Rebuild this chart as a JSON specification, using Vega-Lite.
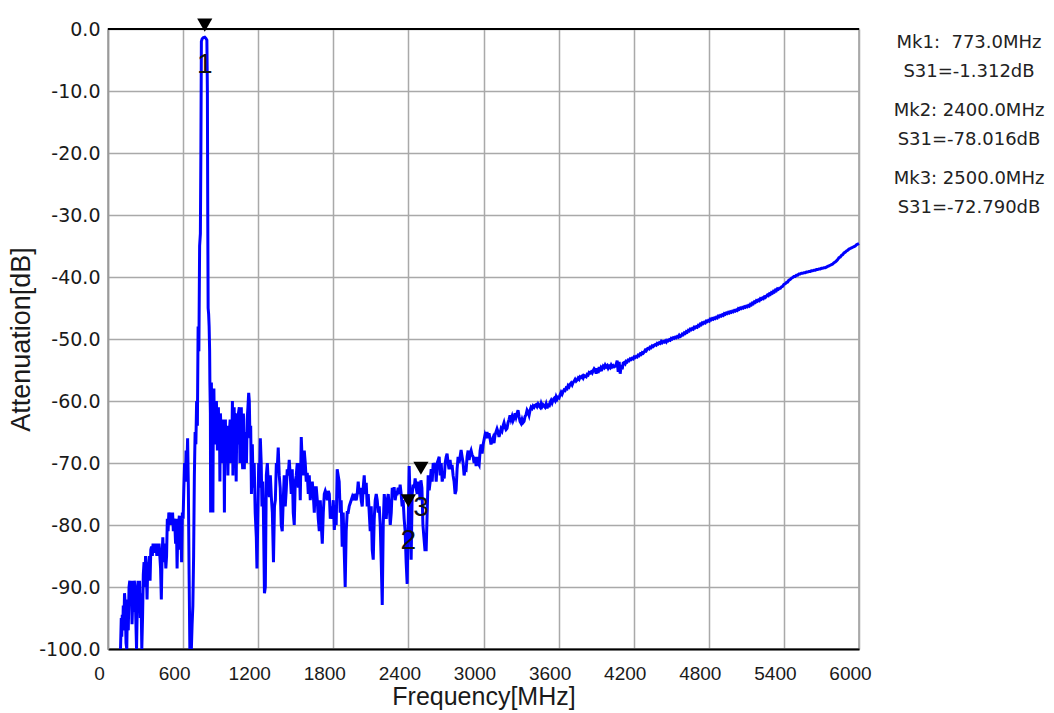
{
"$schema":"https://vega.github.io/schema/vega-lite/v6.json",
"width":751,"height":620,
"autosize":{"type":"none"},
"padding":{"left":108,"top":29,"right":195,"bottom":64},
"background":"white",
"datasets":{
"trace":[
{"f":100,"db":-100},{"f":106,"db":-95},{"f":110,"db":-98},{"f":114,"db":-94.5},{"f":118,"db":-97},{"f":122,"db":-93},{"f":128,"db":-95},{"f":132,"db":-91},{"f":138,"db":-93},{"f":144,"db":-99},{"f":150,"db":-100},{"f":156,"db":-92},{"f":162,"db":-97},{"f":168,"db":-90},{"f":174,"db":-89},{"f":180,"db":-91},{"f":186,"db":-89},{"f":192,"db":-96},{"f":198,"db":-92},{"f":204,"db":-94},{"f":210,"db":-89},{"f":216,"db":-90},{"f":222,"db":-95},{"f":228,"db":-100},{"f":234,"db":-93},{"f":240,"db":-89},{"f":246,"db":-92},{"f":252,"db":-89},{"f":258,"db":-95},{"f":264,"db":-91},{"f":270,"db":-100},{"f":276,"db":-95},{"f":282,"db":-88},{"f":288,"db":-86},{"f":294,"db":-90},{"f":300,"db":-85},{"f":306,"db":-87},{"f":312,"db":-92},{"f":318,"db":-86},{"f":324,"db":-88},{"f":330,"db":-85},{"f":336,"db":-89},{"f":342,"db":-84},{"f":348,"db":-83.5},{"f":354,"db":-85},{"f":360,"db":-83},{"f":366,"db":-84.5},{"f":372,"db":-83},{"f":378,"db":-84},{"f":384,"db":-83},{"f":390,"db":-85},{"f":396,"db":-83.5},{"f":402,"db":-84},{"f":408,"db":-83},{"f":414,"db":-85},{"f":420,"db":-87},{"f":426,"db":-92},{"f":432,"db":-85},{"f":438,"db":-82},{"f":444,"db":-86},{"f":450,"db":-83},{"f":456,"db":-84},{"f":462,"db":-87},{"f":468,"db":-85},{"f":474,"db":-79},{"f":480,"db":-81},{"f":486,"db":-78},{"f":492,"db":-78.5},{"f":498,"db":-80},{"f":504,"db":-78},{"f":510,"db":-79},{"f":516,"db":-78},{"f":522,"db":-81},{"f":528,"db":-79},{"f":534,"db":-80},{"f":540,"db":-83},{"f":546,"db":-79},{"f":552,"db":-87},{"f":558,"db":-80},{"f":564,"db":-80},{"f":570,"db":-78.5},{"f":576,"db":-84},{"f":582,"db":-80},{"f":588,"db":-86},{"f":594,"db":-78},{"f":600,"db":-79},{"f":606,"db":-74},{"f":612,"db":-70},{"f":618,"db":-73},{"f":624,"db":-68},{"f":630,"db":-71},{"f":636,"db":-66},{"f":642,"db":-74},{"f":648,"db":-88},{"f":654,"db":-100},{"f":660,"db":-97},{"f":666,"db":-100},{"f":672,"db":-96},{"f":678,"db":-93},{"f":684,"db":-85},{"f":690,"db":-72},{"f":696,"db":-65},{"f":702,"db":-67},{"f":708,"db":-60},{"f":714,"db":-64},{"f":720,"db":-48},{"f":726,"db":-52},{"f":732,"db":-35},{"f":738,"db":-33},{"f":742,"db":-20},{"f":746,"db":-2},{"f":752,"db":-1.6},{"f":760,"db":-1.4},{"f":773,"db":-1.312},{"f":782,"db":-1.5},{"f":790,"db":-1.8},{"f":794,"db":-10},{"f":797,"db":-30},
{"f":800,"db":-45},{"f":804,"db":-46},{"f":808,"db":-48},{"f":812,"db":-52},{"f":814,"db":-57},{"f":818,"db":-62},{"f":820,"db":-78},{"f":822,"db":-60},{"f":826,"db":-57},{"f":830,"db":-66},{"f":834,"db":-62},{"f":838,"db":-78},{"f":842,"db":-60},{"f":846,"db":-58},{"f":850,"db":-65},{"f":854,"db":-60},{"f":858,"db":-62},{"f":862,"db":-67},{"f":866,"db":-60},{"f":870,"db":-63},{"f":874,"db":-68},{"f":878,"db":-62},{"f":882,"db":-61},{"f":886,"db":-66},{"f":890,"db":-62},{"f":894,"db":-73},{"f":898,"db":-62},{"f":902,"db":-64},{"f":906,"db":-70},{"f":910,"db":-63},{"f":914,"db":-64},{"f":918,"db":-69},{"f":922,"db":-63},{"f":926,"db":-66},{"f":930,"db":-78},{"f":934,"db":-64},{"f":938,"db":-63},{"f":942,"db":-70},{"f":946,"db":-65},{"f":950,"db":-64},{"f":954,"db":-67},{"f":958,"db":-72},{"f":962,"db":-66},{"f":966,"db":-68},{"f":970,"db":-65},{"f":976,"db":-63},{"f":982,"db":-70},{"f":986,"db":-64},{"f":990,"db":-66},{"f":994,"db":-60},{"f":998,"db":-72},{"f":1002,"db":-64},{"f":1008,"db":-61},{"f":1012,"db":-70},{"f":1016,"db":-62},{"f":1020,"db":-66},{"f":1024,"db":-73},{"f":1030,"db":-62},{"f":1036,"db":-67},{"f":1042,"db":-62},{"f":1049,"db":-61},{"f":1054,"db":-70},{"f":1060,"db":-64},{"f":1065,"db":-61},{"f":1070,"db":-68},{"f":1076,"db":-71},{"f":1082,"db":-62},{"f":1089,"db":-71},{"f":1094,"db":-65},{"f":1100,"db":-66},{"f":1106,"db":-70},{"f":1112,"db":-63},{"f":1118,"db":-61},{"f":1124,"db":-58.7},{"f":1129,"db":-60},{"f":1134,"db":-66},{"f":1140,"db":-64},{"f":1146,"db":-75},{"f":1153,"db":-67},{"f":1160,"db":-74},{"f":1168,"db":-70},{"f":1176,"db":-78},{"f":1185,"db":-82},{"f":1190,"db":-87},{"f":1196,"db":-80},{"f":1204,"db":-70},{"f":1210,"db":-74},{"f":1217,"db":-66},{"f":1224,"db":-70},{"f":1230,"db":-77},{"f":1236,"db":-73},{"f":1241,"db":-77},{"f":1250,"db":-91},{"f":1257,"db":-90},{"f":1265,"db":-72},{"f":1273,"db":-70},{"f":1280,"db":-73},{"f":1289,"db":-75.5},{"f":1297,"db":-72},{"f":1305,"db":-75.5},{"f":1313,"db":-78},{"f":1322,"db":-86},{"f":1330,"db":-77},{"f":1337,"db":-76},{"f":1345,"db":-70},{"f":1352,"db":-71},{"f":1360,"db":-67.5},{"f":1368,"db":-72},{"f":1376,"db":-74},{"f":1384,"db":-80},{"f":1392,"db":-81},{"f":1400,"db":-76},{"f":1408,"db":-72},{"f":1416,"db":-77},{"f":1424,"db":-74.4},{"f":1432,"db":-71},{"f":1440,"db":-72},{"f":1448,"db":-69.5},{"f":1456,"db":-72},{"f":1464,"db":-75},{"f":1472,"db":-71},{"f":1480,"db":-78},{"f":1488,"db":-80},{"f":1496,"db":-73},{"f":1504,"db":-72},{"f":1512,"db":-70},{"f":1520,"db":-74},{"f":1528,"db":-70},{"f":1536,"db":-76},{"f":1544,"db":-65.8},
{"f":1552,"db":-70},{"f":1560,"db":-72},{"f":1568,"db":-68},{"f":1576,"db":-70},{"f":1584,"db":-73},{"f":1592,"db":-71.6},{"f":1600,"db":-75},{"f":1608,"db":-72},{"f":1616,"db":-76},{"f":1624,"db":-74},{"f":1632,"db":-73},{"f":1640,"db":-75},{"f":1648,"db":-78},{"f":1656,"db":-74},{"f":1664,"db":-74},{"f":1672,"db":-76},{"f":1680,"db":-79},{"f":1688,"db":-81},{"f":1696,"db":-76},{"f":1704,"db":-80},{"f":1712,"db":-83},{"f":1720,"db":-78},{"f":1728,"db":-75},{"f":1736,"db":-74.5},{"f":1744,"db":-75},{"f":1752,"db":-76},{"f":1760,"db":-74.5},{"f":1768,"db":-75},{"f":1776,"db":-79},{"f":1784,"db":-77},{"f":1792,"db":-79},{"f":1800,"db":-76},{"f":1808,"db":-80.8},{"f":1816,"db":-78},{"f":1823,"db":-80},{"f":1831,"db":-71},{"f":1839,"db":-72},{"f":1847,"db":-73},{"f":1855,"db":-78},{"f":1863,"db":-76},{"f":1871,"db":-83.5},{"f":1879,"db":-78},{"f":1887,"db":-84},{"f":1895,"db":-90},{"f":1903,"db":-81},{"f":1911,"db":-78},{"f":1919,"db":-78},{"f":1927,"db":-77},{"f":1935,"db":-76.5},{"f":1943,"db":-76},{"f":1951,"db":-75.5},{"f":1959,"db":-76},{"f":1967,"db":-75},{"f":1975,"db":-75.5},{"f":1983,"db":-76},{"f":1991,"db":-75},{"f":1999,"db":-73},{"f":2007,"db":-75},{"f":2015,"db":-74},{"f":2023,"db":-76},{"f":2031,"db":-77},{"f":2039,"db":-74},{"f":2047,"db":-72},{"f":2055,"db":-75},{"f":2063,"db":-73.2},{"f":2071,"db":-77},{"f":2079,"db":-75},{"f":2087,"db":-78},{"f":2095,"db":-81},{"f":2103,"db":-77},{"f":2111,"db":-84},{"f":2119,"db":-85.6},{"f":2127,"db":-79},{"f":2135,"db":-76},{"f":2143,"db":-75},{"f":2151,"db":-76},{"f":2159,"db":-78},{"f":2167,"db":-77},{"f":2175,"db":-80},{"f":2183,"db":-86},{"f":2191,"db":-92.9},{"f":2199,"db":-80},{"f":2207,"db":-75},{"f":2215,"db":-77},{"f":2223,"db":-79},{"f":2231,"db":-76},{"f":2239,"db":-75},{"f":2247,"db":-77},{"f":2255,"db":-80},{"f":2263,"db":-78},{"f":2271,"db":-74},{"f":2279,"db":-75},{"f":2286,"db":-73.9},{"f":2294,"db":-76},{"f":2302,"db":-75},{"f":2310,"db":-75},{"f":2318,"db":-74},{"f":2326,"db":-75},{"f":2334,"db":-73.5},{"f":2342,"db":-75},{"f":2350,"db":-77},{"f":2358,"db":-76},{"f":2366,"db":-79},{"f":2374,"db":-81},{"f":2382,"db":-86},{"f":2390,"db":-89.5},{"f":2398,"db":-80},{"f":2400,"db":-78.016},{"f":2406,"db":-70.5},{"f":2414,"db":-76},{"f":2422,"db":-85.6},{"f":2430,"db":-75},{"f":2438,"db":-73.5},{"f":2446,"db":-74},{"f":2454,"db":-72.5},{"f":2462,"db":-74},{"f":2470,"db":-75},{"f":2478,"db":-73},{"f":2486,"db":-74},{"f":2494,"db":-76},{"f":2500,"db":-72.79},{"f":2508,"db":-74},{"f":2516,"db":-80},{"f":2524,"db":-82},{"f":2532,"db":-84},{"f":2542,"db":-84},{"f":2550,"db":-78},{"f":2558,"db":-72},{"f":2566,"db":-74.4},{"f":2574,"db":-73},{"f":2582,"db":-71},{"f":2590,"db":-73},{"f":2598,"db":-70},{"f":2606,"db":-71.1},{"f":2614,"db":-70},{"f":2622,"db":-73},{"f":2630,"db":-70},{"f":2638,"db":-69.5},{"f":2646,"db":-69},{"f":2654,"db":-72},{"f":2662,"db":-70},{"f":2670,"db":-73},{"f":2678,"db":-72},{"f":2686,"db":-72.5},{"f":2694,"db":-70},{"f":2702,"db":-69},{"f":2709,"db":-68.5},{"f":2717,"db":-70},{"f":2725,"db":-71},{"f":2733,"db":-69.5},{"f":2741,"db":-71},{"f":2749,"db":-70.3},{"f":2757,"db":-72},{"f":2765,"db":-73},{"f":2773,"db":-75},{"f":2781,"db":-74.4},{"f":2789,"db":-71},{"f":2797,"db":-69},{"f":2805,"db":-70},{"f":2813,"db":-69},{"f":2821,"db":-67.9},{"f":2829,"db":-69},{"f":2837,"db":-70},{"f":2845,"db":-72},{"f":2853,"db":-71},{"f":2861,"db":-71.1},{"f":2869,"db":-69},{"f":2877,"db":-68},{"f":2885,"db":-69.5},{"f":2893,"db":-68.5},{"f":2901,"db":-68},{"f":2909,"db":-68.7},{"f":2917,"db":-69},{"f":2925,"db":-70},{"f":2933,"db":-69},{"f":2941,"db":-70.5},{"f":2949,"db":-69},{"f":2957,"db":-70},{"f":2965,"db":-70.3},{"f":2973,"db":-68},{"f":2981,"db":-67},{"f":2989,"db":-68.5},{"f":2997,"db":-67},{"f":3004,"db":-66.3},{"f":3012,"db":-65.5},{"f":3020,"db":-66},{"f":3028,"db":-65},{"f":3036,"db":-66},{"f":3044,"db":-65.2},{"f":3052,"db":-66},{"f":3060,"db":-67},{"f":3068,"db":-66.5},{"f":3076,"db":-66},{"f":3084,"db":-66.8},{"f":3092,"db":-65.5},{"f":3100,"db":-65},{"f":3108,"db":-64.5},{"f":3116,"db":-65},{"f":3124,"db":-65.8},
{"f":3132,"db":-65.2},{"f":3140,"db":-64.5},{"f":3148,"db":-64.8},{"f":3156,"db":-64},{"f":3164,"db":-63.5},{"f":3172,"db":-64.2},{"f":3180,"db":-64.6},{"f":3188,"db":-64.4},{"f":3196,"db":-63.5},{"f":3204,"db":-63},{"f":3212,"db":-62.3},{"f":3220,"db":-63},{"f":3228,"db":-62.5},{"f":3236,"db":-63.2},{"f":3244,"db":-62.8},{"f":3252,"db":-62},{"f":3260,"db":-62.6},{"f":3268,"db":-62},{"f":3276,"db":-61.5},{"f":3284,"db":-62.5},{"f":3292,"db":-63.3},{"f":3300,"db":-63.6},{"f":3308,"db":-63},{"f":3316,"db":-63.5},{"f":3324,"db":-63.3},{"f":3332,"db":-62.5},{"f":3340,"db":-62.2},{"f":3348,"db":-61.5},{"f":3356,"db":-61.8},{"f":3364,"db":-62.3},{"f":3372,"db":-61.5},{"f":3380,"db":-61},{"f":3388,"db":-61.2},{"f":3396,"db":-60.8},{"f":3404,"db":-61},{"f":3412,"db":-60.7},{"f":3420,"db":-60.6},{"f":3428,"db":-60.9},{"f":3436,"db":-60.5},{"f":3444,"db":-60.8},{"f":3452,"db":-61},{"f":3460,"db":-60.4},{"f":3468,"db":-60.9},{"f":3476,"db":-60.6},{"f":3484,"db":-60.8},{"f":3492,"db":-61},{"f":3500,"db":-60.5},{"f":3508,"db":-61.2},{"f":3516,"db":-60.4},{"f":3524,"db":-61},{"f":3532,"db":-60.2},{"f":3540,"db":-59.9},{"f":3548,"db":-60.3},{"f":3556,"db":-59.8},{"f":3564,"db":-59.6},{"f":3572,"db":-59.9},{"f":3580,"db":-59.3},{"f":3588,"db":-59.7},{"f":3596,"db":-59.4},{"f":3604,"db":-59.5},{"f":3612,"db":-59},{"f":3620,"db":-58.6},{"f":3628,"db":-58.9},{"f":3636,"db":-58.5},{"f":3644,"db":-58.2},{"f":3652,"db":-58.3},{"f":3660,"db":-57.9},{"f":3668,"db":-58},{"f":3676,"db":-57.5},{"f":3684,"db":-57.7},{"f":3692,"db":-57.3},{"f":3700,"db":-57.1},{"f":3708,"db":-57.4},{"f":3716,"db":-57},{"f":3724,"db":-56.8},{"f":3732,"db":-56.5},{"f":3740,"db":-56.8},{"f":3748,"db":-56.6},{"f":3756,"db":-56.3},{"f":3764,"db":-56.5},{"f":3772,"db":-56.1},{"f":3780,"db":-56.2},{"f":3788,"db":-56},{"f":3796,"db":-56.3},{"f":3804,"db":-55.9},{"f":3812,"db":-56},{"f":3820,"db":-56.1},{"f":3828,"db":-55.7},{"f":3836,"db":-55.8},{"f":3844,"db":-55.4},{"f":3852,"db":-55.5},{"f":3860,"db":-55.3},{"f":3868,"db":-55.5},{"f":3876,"db":-55.1},{"f":3884,"db":-54.8},{"f":3892,"db":-55},{"f":3900,"db":-55.6},{"f":3908,"db":-54.7},{"f":3916,"db":-55.5},{"f":3924,"db":-54.5},{"f":3932,"db":-55.2},{"f":3940,"db":-54.6},{"f":3948,"db":-54.8},{"f":3956,"db":-54.4},{"f":3964,"db":-54.6},{"f":3972,"db":-54.2},{"f":3980,"db":-54.5},{"f":3988,"db":-54.3},{"f":3996,"db":-54.7},{"f":4004,"db":-54.4},{"f":4012,"db":-54.6},{"f":4020,"db":-54.2},{"f":4028,"db":-54.5},{"f":4036,"db":-54.3},{"f":4044,"db":-54.5},{"f":4052,"db":-54.4},{"f":4060,"db":-54.1},{"f":4068,"db":-53.5},{"f":4076,"db":-55.3},{"f":4084,"db":-53.7},{"f":4092,"db":-55.6},{"f":4100,"db":-54.2},{"f":4108,"db":-54.9},{"f":4116,"db":-53.9},{"f":4124,"db":-53.8},{"f":4132,"db":-54},{"f":4140,"db":-53.6},{"f":4148,"db":-53.7},{"f":4156,"db":-53.4},{"f":4164,"db":-53.5},{"f":4172,"db":-53.2},{"f":4180,"db":-53.3},{"f":4188,"db":-53.1},{"f":4196,"db":-53.2},{"f":4204,"db":-52.9},{"f":4212,"db":-53},{"f":4220,"db":-52.8},{"f":4228,"db":-52.9},{"f":4236,"db":-52.6},{"f":4244,"db":-52.7},{"f":4252,"db":-52.4},{"f":4260,"db":-52.5},{"f":4268,"db":-52.2},{"f":4276,"db":-52.3},{"f":4284,"db":-52.1},{"f":4292,"db":-51.8},{"f":4300,"db":-51.9},{"f":4308,"db":-51.6},{"f":4316,"db":-51.5},{"f":4324,"db":-51.6},{"f":4332,"db":-51.3},{"f":4340,"db":-51.4},{"f":4348,"db":-51.1},{"f":4356,"db":-51.2},{"f":4364,"db":-51},{"f":4372,"db":-50.9},{"f":4380,"db":-51},{"f":4388,"db":-50.7},{"f":4396,"db":-50.8},{"f":4404,"db":-50.6},{"f":4412,"db":-50.7},{"f":4420,"db":-50.4},{"f":4428,"db":-50.6},{"f":4436,"db":-50.4},{"f":4444,"db":-50.5},{"f":4452,"db":-50.3},{"f":4460,"db":-50.5},{"f":4468,"db":-50.2},{"f":4476,"db":-50.3},{"f":4484,"db":-50.1},{"f":4492,"db":-50.2},{"f":4500,"db":-49.9},{"f":4508,"db":-50},{"f":4516,"db":-49.8},{"f":4524,"db":-49.9},{"f":4532,"db":-49.7},{"f":4540,"db":-49.8},{"f":4548,"db":-49.6},{"f":4556,"db":-49.7},{"f":4564,"db":-49.4},{"f":4572,"db":-49.6},{"f":4580,"db":-49.5},{"f":4588,"db":-49.2},{"f":4596,"db":-49.3},{"f":4604,"db":-49},{"f":4612,"db":-49.1},{"f":4620,"db":-48.8},{"f":4628,"db":-48.9},{"f":4636,"db":-48.6},{"f":4644,"db":-48.7},{"f":4652,"db":-48.4},{"f":4660,"db":-48.5},{"f":4668,"db":-48.3},{"f":4676,"db":-48.4},{"f":4684,"db":-48.1},{"f":4692,"db":-48.2},{"f":4700,"db":-48},{"f":4708,"db":-48.1},{"f":4716,"db":-47.8},{"f":4724,"db":-47.9},{"f":4732,"db":-47.6},{"f":4740,"db":-47.7},{"f":4748,"db":-47.4},{"f":4756,"db":-47.5},{"f":4764,"db":-47.3},{"f":4772,"db":-47.4},{"f":4780,"db":-47.1},{"f":4788,"db":-47.2},{"f":4796,"db":-47},{"f":4804,"db":-47.1},{"f":4812,"db":-46.8},{"f":4820,"db":-46.9},{"f":4828,"db":-46.7},{"f":4836,"db":-46.8},{"f":4844,"db":-46.6},{"f":4852,"db":-46.7},{"f":4860,"db":-46.5},{"f":4868,"db":-46.6},{"f":4876,"db":-46.3},{"f":4884,"db":-46.4},{"f":4892,"db":-46.2},{"f":4900,"db":-46.3},{"f":4908,"db":-46.1},{"f":4916,"db":-46.2},{"f":4924,"db":-45.9},{"f":4932,"db":-46},{"f":4940,"db":-45.8},{"f":4948,"db":-45.9},{"f":4956,"db":-45.7},{"f":4964,"db":-45.8},{"f":4972,"db":-45.6},{"f":4980,"db":-45.7},{"f":4988,"db":-45.5},{"f":4996,"db":-45.6},{"f":5004,"db":-45.4},{"f":5012,"db":-45.5},{"f":5020,"db":-45.3},{"f":5028,"db":-45.4},{"f":5036,"db":-45.1},{"f":5044,"db":-45.2},{"f":5052,"db":-45},{"f":5060,"db":-45.1},{"f":5068,"db":-44.9},{"f":5076,"db":-45},{"f":5084,"db":-44.8},{"f":5092,"db":-44.9},{"f":5100,"db":-44.7},{"f":5108,"db":-44.8},{"f":5116,"db":-44.6},{"f":5124,"db":-44.7},{"f":5132,"db":-44.4},{"f":5140,"db":-44.5},{"f":5148,"db":-44.2},{"f":5156,"db":-44.3},{"f":5164,"db":-44},{"f":5172,"db":-44.1},{"f":5180,"db":-43.8},{"f":5188,"db":-43.9},{"f":5196,"db":-43.7},{"f":5204,"db":-43.8},{"f":5212,"db":-43.5},{"f":5220,"db":-43.6},{"f":5228,"db":-43.4},{"f":5236,"db":-43.5},{"f":5244,"db":-43.2},{"f":5252,"db":-43.3},{"f":5260,"db":-43.1},{"f":5268,"db":-42.9},{"f":5276,"db":-43},{"f":5284,"db":-42.7},{"f":5292,"db":-42.8},{"f":5300,"db":-42.5},{"f":5308,"db":-42.6},{"f":5316,"db":-42.3},{"f":5324,"db":-42.4},{"f":5332,"db":-42.1},{"f":5340,"db":-42.2},{"f":5348,"db":-41.9},{"f":5356,"db":-42},{"f":5364,"db":-41.8},{"f":5372,"db":-41.8},{"f":5380,"db":-41.6},{"f":5390,"db":-41.5},{"f":5400,"db":-41.2},{"f":5410,"db":-41.1},{"f":5420,"db":-40.9},{"f":5430,"db":-40.8},{"f":5440,"db":-40.5},{"f":5450,"db":-40.4},{"f":5460,"db":-40.2},{"f":5470,"db":-40.1},{"f":5480,"db":-39.9},{"f":5490,"db":-39.9},{"f":5500,"db":-39.7},{"f":5510,"db":-39.7},{"f":5520,"db":-39.5},{"f":5530,"db":-39.5},{"f":5540,"db":-39.4},{"f":5550,"db":-39.4},{"f":5560,"db":-39.3},{"f":5570,"db":-39.3},{"f":5580,"db":-39.2},{"f":5590,"db":-39.2},{"f":5600,"db":-39.1},{"f":5610,"db":-39.1},{"f":5620,"db":-39},{"f":5630,"db":-39},{"f":5640,"db":-38.9},{"f":5650,"db":-38.9},{"f":5660,"db":-38.8},{"f":5670,"db":-38.8},{"f":5680,"db":-38.7},{"f":5690,"db":-38.7},{"f":5700,"db":-38.6},{"f":5710,"db":-38.6},{"f":5720,"db":-38.5},{"f":5730,"db":-38.5},{"f":5740,"db":-38.4},{"f":5750,"db":-38.3},{"f":5760,"db":-38.2},{"f":5770,"db":-38.1},{"f":5780,"db":-38},{"f":5790,"db":-37.9},{"f":5800,"db":-37.7},{"f":5810,"db":-37.6},{"f":5820,"db":-37.4},{"f":5830,"db":-37.2},{"f":5840,"db":-36.9},{"f":5850,"db":-36.8},{"f":5860,"db":-36.5},{"f":5870,"db":-36.4},{"f":5880,"db":-36.1},{"f":5890,"db":-36},{"f":5900,"db":-35.8},{"f":5910,"db":-35.7},{"f":5920,"db":-35.5},{"f":5930,"db":-35.4},{"f":5940,"db":-35.3},{"f":5950,"db":-35.2},{"f":5960,"db":-35.1},{"f":5970,"db":-35},{"f":5980,"db":-34.8},{"f":5990,"db":-34.7},{"f":6000,"db":-34.6}
],
"markers":[
{"mk":"1","f":773,"db":-1.312,"n":1,"info":"Mk1:\u00a0 773.0MHz\nS31=-1.312dB"},
{"mk":"2","f":2400,"db":-78.016,"n":2,"info":"Mk2: 2400.0MHz\nS31=-78.016dB"},
{"mk":"3","f":2500,"db":-72.79,"n":3,"info":"Mk3: 2500.0MHz\nS31=-72.790dB"}
]
},
"layer":[
{"layer":[
{"data":{"name":"trace"},
"mark":{"type":"line","color":"#0000ff","strokeWidth":3},
"encoding":{
"x":{"field":"f","type":"quantitative","title":"Frequency[MHz]","scale":{"domain":[0,6000],"nice":false,"zero":false},
"axis":{"values":[0,600,1200,1800,2400,3000,3600,4200,4800,5400,6000],"format":"d","labelFont":"Liberation Sans","labelFontSize":19,"labelPadding":15,"labelOffset":-9,"labelFlush":false,"labelOverlap":false,"labelBound":false,"domainColor":"#000000","domainWidth":2,"title":"Frequency[MHz]","titleFont":"Liberation Sans","titleFontSize":25,"titlePadding":1}},
"y":{"field":"db","type":"quantitative","title":"Attenuation[dB]","scale":{"domain":[-100,0],"nice":false,"zero":false},
"axis":{"values":[-100,-90,-80,-70,-60,-50,-40,-30,-20,-10,0],"labelExpr":"(datum.value < 0 ? '-' : '') + format(abs(datum.value), '.1f')","labelFont":"DejaVu Sans","labelFontSize":19,"labelPadding":8,"labelFlush":false,"labelOverlap":false,"title":"Attenuation[dB]","titleFont":"Liberation Sans","titleFontSize":27,"titlePadding":3}}
}},
{"data":{"values":[{}]},
"mark":{"type":"rule","color":"#000000","strokeWidth":2},
"encoding":{"y":{"datum":0,"type":"quantitative","title":"Attenuation[dB]","scale":{"domain":[-100,0],"nice":false,"zero":false}}}},
{"data":{"name":"markers"},
"mark":{"type":"point","shape":"triangle-down","filled":true,"color":"#000000","opacity":1,"size":230,"yOffset":-12},
"encoding":{
"x":{"field":"f","type":"quantitative","title":"Frequency[MHz]","scale":{"domain":[0,6000],"nice":false,"zero":false}},
"y":{"field":"db","type":"quantitative","title":"Attenuation[dB]","scale":{"domain":[-100,0],"nice":false,"zero":false}}}},
{"data":{"name":"markers"},
"mark":{"type":"text","font":"Liberation Sans","fontSize":28,"dy":28,"color":"#111111","baseline":"middle","align":"center"},
"encoding":{
"x":{"field":"f","type":"quantitative","title":"Frequency[MHz]","scale":{"domain":[0,6000],"nice":false,"zero":false}},
"y":{"field":"db","type":"quantitative","title":"Attenuation[dB]","scale":{"domain":[-100,0],"nice":false,"zero":false}},
"text":{"field":"mk"}}}
]},
{"data":{"name":"markers"},
"mark":{"type":"text","font":"DejaVu Sans","fontSize":18,"color":"#222222","lineBreak":"\n","lineHeight":29,"align":"center","baseline":"middle"},
"encoding":{
"x":{"datum":6879,"type":"quantitative","scale":{"domain":[0,6000],"nice":false,"zero":false}},
"y":{"field":"n","type":"quantitative","scale":{"domain":[0.7949,9.8791],"reverse":true,"nice":false,"zero":false},"axis":null},
"text":{"field":"info"}}}
],
"resolve":{"scale":{"y":"independent"}},
"config":{
"view":{"stroke":"#9a9a9a","strokeWidth":1.5},
"axis":{"grid":true,"gridColor":"#a9a9a9","gridWidth":1.5,"ticks":false,"labelColor":"#1a1a1a","titleColor":"#1a1a1a","titleFontWeight":"normal","domainColor":"#9a9a9a","domainWidth":1.5}
}
}
